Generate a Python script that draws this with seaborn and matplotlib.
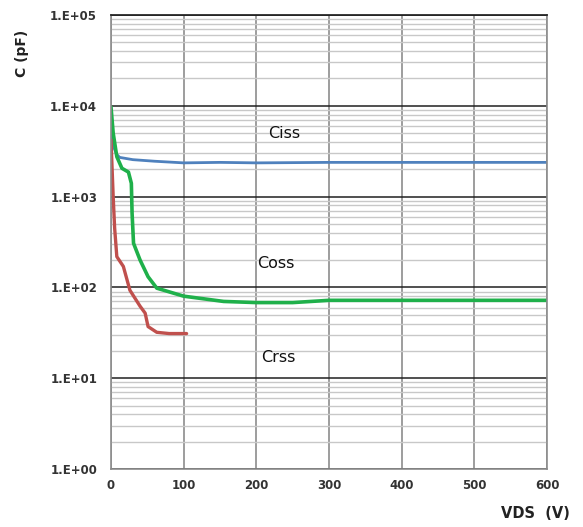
import numpy as np
import pandas as pd
import matplotlib
matplotlib.use("Agg")
import matplotlib.pyplot as plt
import seaborn as sns
from matplotlib.ticker import LogLocator, FixedLocator

sns.set_theme(style="white")
plt.rcParams['font.family'] = ['DejaVu Sans']

# Capacitance vs drain-source voltage
ciss_v = [0, 3, 8, 12, 30, 60, 100, 150, 200, 300, 400, 500, 600]
ciss_c = [6500, 3600, 2900, 2700, 2550, 2450, 2350, 2380, 2350, 2380, 2380, 2380, 2380]

coss_v = [0, 3, 8, 15, 24, 28, 29, 31, 40, 51, 63, 100, 155, 200, 250, 300, 400, 500, 600]
coss_c = [9700, 5000, 2750, 2050, 1860, 1400, 655, 306, 200, 131, 98, 80, 70, 68, 68, 72, 72, 72, 72]

crss_v = [0, 1, 3, 5, 8, 17, 26, 40, 47, 51, 63, 80, 104]
crss_c = [4200, 2600, 1000, 450, 218, 170, 93, 62, 52, 37, 32, 31, 31]

series = ["Ciss", "Coss", "Crss"]
colors = {"Ciss": "#4F81BD", "Coss": "#1FB04A", "Crss": "#C0504D"}

df = pd.concat([
    pd.DataFrame({"V": ciss_v, "C": ciss_c, "s": "Ciss"}),
    pd.DataFrame({"V": coss_v, "C": coss_c, "s": "Coss"}),
    pd.DataFrame({"V": crss_v, "C": crss_c, "s": "Crss"}),
])

fig = plt.figure(figsize=(5.83, 5.27), dpi=100)
ax = fig.add_axes([0.1904, 0.1101, 0.7479, 0.8615])

ax.set_yscale("log")
ax.set_xlim(0, 600)
ax.set_ylim(1, 1e5)

# grid: light minor lines, dark decade lines, gray verticals
ax.yaxis.set_minor_locator(LogLocator(base=10, subs=np.arange(2, 10)))
ax.grid(which="minor", axis="y", color="#c8c8c8", lw=1.0)
ax.grid(which="major", axis="y", color="#202020", lw=1.1)
ax.xaxis.set_major_locator(FixedLocator([0, 100, 200, 300, 400, 500, 600]))
ax.grid(which="major", axis="x", color="#8c8c8c", lw=1.2)
ax.set_axisbelow(True)

widths = {"Ciss": 2.0, "Coss": 2.6, "Crss": 2.4}
for s in series:
    sns.lineplot(data=df[df["s"] == s], x="V", y="C", color=colors[s],
                 lw=widths[s], ax=ax, estimator=None, sort=False)

ax.set_yticks([1, 10, 100, 1000, 1e4, 1e5])
ax.set_yticklabels(["1.E+00", "1.E+01", "1.E+02", "1.E+03", "1.E+04", "1.E+05"])
ax.tick_params(axis="both", which="both", length=0, labelsize=8.5, labelcolor="#333333")
ax.tick_params(axis="x", pad=7)
ax.tick_params(axis="y", pad=10)
for lab in ax.get_xticklabels() + ax.get_yticklabels():
    lab.set_fontweight("bold")

for side in ["left", "bottom", "right"]:
    ax.spines[side].set_color("#8c8c8c")
    ax.spines[side].set_linewidth(1.2)
ax.spines["top"].set_color("#202020")

ax.set_xlabel("")
ax.set_ylabel("")
fig.text(22 / 583, 1 - 53 / 527, "C (pF)", rotation=90, ha="center", va="center",
         fontsize=10, fontweight="bold", color="#222222")
fig.text(535 / 583, 1 - 514 / 527, "VDS  (V)", ha="center", va="center",
         fontsize=10.5, fontweight="bold", color="#222222")

for name, x, y in [("Ciss", 239, 4900), ("Coss", 227, 181), ("Crss", 230, 17.1)]:
    ax.text(x, y, name, ha="center", va="center", fontsize=11.5, color="#111111")

fig.savefig("out.png", dpi=100, facecolor="white")
